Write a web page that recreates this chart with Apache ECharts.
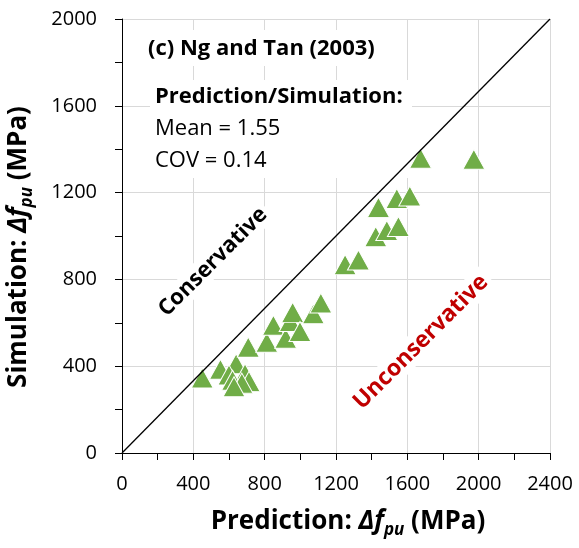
<!DOCTYPE html>
<html><head><meta charset="utf-8">
<script src="https://cdn.jsdelivr.net/npm/echarts@6/dist/echarts.min.js"></script>
<style>html,body{margin:0;padding:0;background:#fff}#c{width:579px;height:548px}</style>
</head><body><div id="c"></div>
<script>
// Prediction (x) and Simulation (y), MPa
const predictionMPa = [450, 552, 640, 708, 600, 690, 620, 712, 672, 628,
  812, 849, 918, 943, 957, 998, 1073, 1115,
  1251, 1326, 1423, 1485, 1550, 1438, 1541, 1614,
  1674, 1973];
const simulationMPa = [346, 386, 411, 488, 360, 365, 335, 330, 322, 305,
  510, 589, 529, 606, 648, 560, 642, 691,
  868, 889, 997, 1025, 1044, 1132, 1173, 1184,
  1358, 1354];
const diagonalX = [0, 2400];
const diagonalY = [0, 2000];
const xTickMin = 0, xTickMax = 2400, xTickStep = 400;
const yTickMin = 0, yTickMax = 2000, yTickStep = 400;
const panelTitle = '(c) Ng and Tan (2003)';
const statsHeader = 'Prediction/Simulation:';
const statsMean = 'Mean = 1.55';
const statsCov = 'COV = 0.14';

const FF = '"Open Sans"';
const chart = echarts.init(document.getElementById('c'), null, {renderer: 'canvas'});

function nameRich() {
  return {
    b: {fontSize: 26, fontWeight: 'bold', fontFamily: FF, color: '#000', lineHeight: 34},
    i: {fontSize: 26, fontWeight: 'bold', fontStyle: 'italic', fontFamily: FF, color: '#000', lineHeight: 34},
    s: {fontSize: 17, fontWeight: 'bold', fontStyle: 'italic', fontFamily: FF, color: '#000', lineHeight: 18, verticalAlign: 'bottom'},
    g: {fontSize: 26, width: 22, lineHeight: 34, color: 'rgba(0,0,0,0)'}
  };
}
const axisCommon = {
  axisLine: {show: true, lineStyle: {color: '#000', width: 1}},
  axisTick: {show: true, inside: false, length: 7, lineStyle: {color: '#000'}},
  minorTick: {show: true, splitNumber: 2, length: 7, lineStyle: {color: '#000'}},
  splitLine: {show: true, lineStyle: {color: '#d9d9d9', width: 1}},
  axisLabel: {color: '#000', fontSize: 20, fontFamily: FF, formatter: v => String(v)},
  nameLocation: 'middle'
};

const scatterData = predictionMPa.map((x, i) => [x, simulationMPa[i]]);
const diagData = diagonalX.map((x, i) => [x, diagonalY[i]]);

chart.setOption({
  animation: false,
  backgroundColor: '#fff',
  grid: {left: 122, right: 29, top: 19, bottom: 95, containLabel: false, outerBoundsMode: 'none'},
  xAxis: Object.assign({}, axisCommon, {
    type: 'value', min: xTickMin, max: xTickMax, interval: xTickStep,
    axisLabel: Object.assign({}, axisCommon.axisLabel, {margin: 21}),
    name: '{b|Prediction: }{i|Δf}{s|pu}{b| (MPa)}',
    nameGap: 52,
    nameTextStyle: {rich: nameRich(), padding: [0, 0, 0, 24]}
  }),
  yAxis: Object.assign({}, axisCommon, {
    type: 'value', min: yTickMin, max: yTickMax, interval: yTickStep,
    axisLabel: Object.assign({}, axisCommon.axisLabel, {margin: 25}),
    name: '{b|Simulation: }{i|Δf}{s|pu}{b| (MPa)}{g| }',
    nameGap: 86,
    nameTextStyle: {rich: nameRich()}
  }),
  series: [
    {
      type: 'scatter', z: 2,
      data: scatterData,
      symbol: 'triangle', symbolSize: [22, 20],
      itemStyle: {color: '#70AD47', borderColor: '#fff', borderWidth: 1, opacity: 1}
    },
    {
      type: 'line', z: 3,
      data: diagData,
      symbol: 'none',
      lineStyle: {color: '#000', width: 1.3}
    }
  ],
  graphic: [
    {type: 'rect', z: 1, shape: {x: 145, y: 30, width: 242, height: 36}, style: {fill: '#fff'}},
    {type: 'rect', z: 1, shape: {x: 150, y: 80, width: 262, height: 98}, style: {fill: '#fff'}},
    {type: 'text', z: 1, x: 148, y: 49, style: {text: panelTitle, font: 'bold 22px "Open Sans"', fill: '#000', verticalAlign: 'middle'}},
    {type: 'text', z: 1, x: 155, y: 97, style: {text: statsHeader, font: 'bold 22px "Open Sans"', fill: '#000', verticalAlign: 'middle'}},
    {type: 'text', z: 1, x: 155, y: 129, style: {text: statsMean, font: '22px "Open Sans"', fill: '#000', verticalAlign: 'middle'}},
    {type: 'text', z: 1, x: 155, y: 161, style: {text: statsCov, font: '22px "Open Sans"', fill: '#000', verticalAlign: 'middle'}},
    {type: 'text', z: 1, x: 213, y: 262, rotation: Math.PI / 4,
      style: {text: 'Conservative', font: 'bold 22px "Open Sans"', fill: '#000', align: 'center', verticalAlign: 'middle', backgroundColor: '#fff', padding: [2, 4]}},
    {type: 'text', z: 1, x: 421, y: 342, rotation: Math.PI / 4,
      style: {text: 'Unconservative', font: 'bold 23px "Open Sans"', fill: '#C00000', align: 'center', verticalAlign: 'middle', backgroundColor: '#fff', padding: [2, 4]}}
  ]
});
</script>
</body></html>
